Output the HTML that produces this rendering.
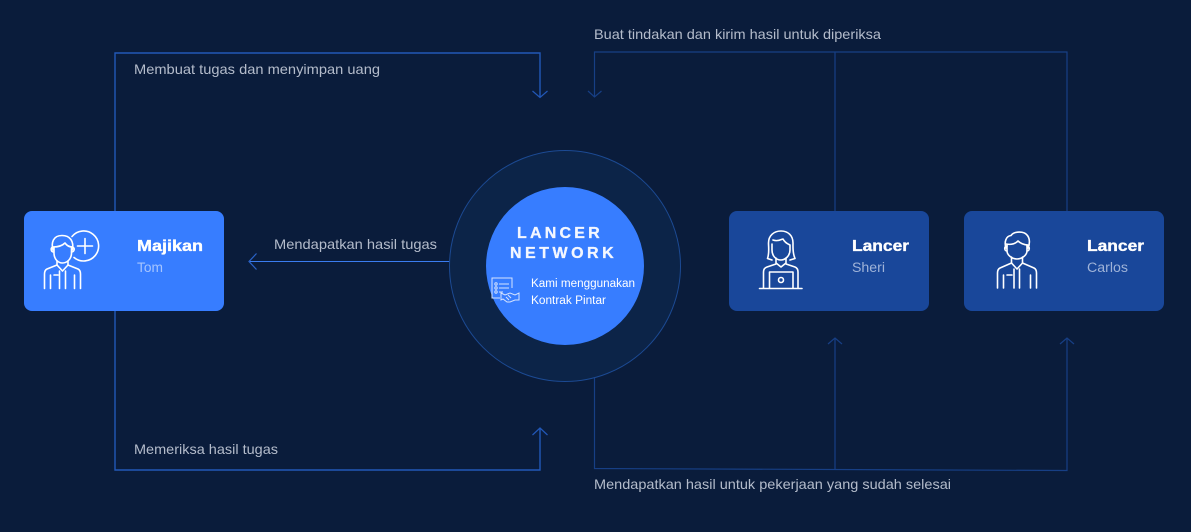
<!DOCTYPE html>
<html lang="id">
<head>
<meta charset="utf-8">
<title>Lancer Network</title>
<style>
html,body{margin:0;padding:0;background:#0a1c3b}
svg{display:block}
text{font-family:"Liberation Sans",sans-serif}
.lbl{font-size:14px;fill:#b4bccb}
.ttl{font-size:16px;font-weight:700;fill:#fff;stroke:#fff;stroke-width:.35}
.sub{font-size:13.5px}
.ic{fill:none;stroke:#fff;stroke-width:1.6;stroke-linecap:round;stroke-linejoin:round}
</style>
</head>
<body>
<svg width="1191" height="532" viewBox="0 0 1191 532" xmlns="http://www.w3.org/2000/svg">
<rect width="1191" height="532" fill="#0a1c3b"/>

<!-- bright connectors -->
<g fill="none" stroke="#2258b8" stroke-width="1.4">
  <path d="M115 211V53H540V97"/>
  <path d="M532.500 91L540 97.500L547.500 91" stroke-width="1.200"/>
  <path d="M115 311V470H540V428"/>
  <path d="M532.500 435L540 428L547.500 435" stroke-width="1.200"/>
</g>
<!-- dim connectors -->
<g fill="none" stroke="#173f85" stroke-width="1.2">
  <path d="M1067 211V52H594.500V97"/>
  <path d="M588 91L594.500 97L601.500 91"/>
  <path d="M835 52V211"/>
  <path d="M594.500 378V468.500L1067 470.500V338"/>
  <path d="M835 469.500V338"/>
  <path d="M828 344L835 338L842 344"/>
  <path d="M1060 344L1067 338L1074 344"/>
</g>
<path d="M250 261.500H450" stroke="#3a7cf0" stroke-width="1" fill="none"/>
<path d="M256.500 253.500L249 261.500L256.500 269.500" stroke="#2a63c8" stroke-width="1.200" fill="none"/>

<!-- labels -->
<text class="lbl" x="134" y="74" textLength="246" lengthAdjust="spacingAndGlyphs">Membuat tugas dan menyimpan uang</text>
<text class="lbl" x="594" y="39" textLength="287" lengthAdjust="spacingAndGlyphs">Buat tindakan dan kirim hasil untuk diperiksa</text>
<text class="lbl" x="274" y="249" textLength="163" lengthAdjust="spacingAndGlyphs">Mendapatkan hasil tugas</text>
<text class="lbl" x="134" y="454" textLength="144" lengthAdjust="spacingAndGlyphs">Memeriksa hasil tugas</text>
<text class="lbl" x="594" y="489" textLength="357" lengthAdjust="spacingAndGlyphs">Mendapatkan hasil untuk pekerjaan yang sudah selesai</text>

<!-- center -->
<circle cx="565" cy="266" r="115.500" fill="#0c2448" stroke="#1c4a93" stroke-width="1"/>
<circle cx="565" cy="266" r="79" fill="#377dff"/>
<text x="517" y="238" font-size="16" font-weight="700" fill="#f4f7ff" stroke="#f4f7ff" stroke-width=".3" letter-spacing="3.200">LANCER</text>
<text x="510" y="258" font-size="16" font-weight="700" fill="#f4f7ff" stroke="#f4f7ff" stroke-width=".3" letter-spacing="3.500">NETWORK</text>
<text x="531" y="287" font-size="11.500" fill="#fff" textLength="104" lengthAdjust="spacingAndGlyphs">Kami menggunakan</text>
<text x="531" y="304" font-size="11.500" fill="#fff" textLength="75" lengthAdjust="spacingAndGlyphs">Kontrak Pintar</text>
<!-- contract icon -->
<g fill="none" stroke="#d5e3ff" stroke-width="1">
  <path d="M512 288V278H492V298H500"/>
  <circle cx="496" cy="284" r="1.200"/><circle cx="496" cy="288" r="1.200"/><circle cx="496" cy="292" r="1.200"/>
  <path d="M499 284H509M499 288H509M499 292H503"/>
  <path d="M501 293L505 295L510 293L515 295L519 293V300L515 300L510 302H507L503 299L501 300Z"/>
  <path d="M508 295L511 298M506 297L509 300"/>
</g>

<!-- Majikan card -->
<rect x="24" y="211" width="200" height="100" rx="8" fill="#377dff"/>
<text class="ttl" x="137" y="251" textLength="66" lengthAdjust="spacingAndGlyphs">Majikan</text>
<text class="sub" x="137" y="272" fill="#a6c5ff" textLength="26" lengthAdjust="spacingAndGlyphs">Tom</text>
<g class="ic">
  <path d="M72 236.500A15 15 0 1 1 74 257.500"/>
  <path d="M85 238.500V253.500M77.500 246H92.500"/>
  <path d="M53 250C51 243 53 235.500 62 235.500C70 235.500 74 241 72.500 250"/>
  <path d="M53 247C58 247 62 246 65 243C67 246 70 247 72.500 247"/>
  <path d="M54 247V253C54 259 58 263 62.500 263C67 263 71.500 259 71.500 253V247"/>
  <path d="M53 247C50.500 247 50.500 252 53.500 252M72 247C75 247 75 252 71.500 252"/>
  <path d="M57 261V265L47 269C45 270 44.500 272 44.500 274V288.500M68 261V265L78 269C80 270 80.500 272 80.500 274V288.500"/>
  <path d="M57 265L62.500 271L68 265M59.500 271V288.500M65.500 271V288.500M50.500 275V288.500M74.500 275V288.500M54 275H58"/>
</g>

<!-- Sheri card -->
<rect x="729" y="211" width="200" height="100" rx="8" fill="#19479a"/>
<text class="ttl" x="852" y="251" textLength="57" lengthAdjust="spacingAndGlyphs">Lancer</text>
<text class="sub" x="852" y="272" fill="#9fb3d8" textLength="33" lengthAdjust="spacingAndGlyphs">Sheri</text>
<g class="ic">
  <path d="M772 260L767.500 258.500C769.500 253 768.500 247 768.500 243C768.500 235.500 774 231 781 231C788 231 793 235.500 793 243C793 247 792.500 253 795 258.500L790 260"/>
  <path d="M773 240C778 242 782 239 783 239C785 243 788 244 790 245V250C790 256 785 260 781 260C776 260 772 256 772 250V244"/>
  <path d="M776 258V263L781 267L786 263V258"/>
  <path d="M776 264L767 267C764 268 763.500 270 763.500 272V288M786 264L795 267C797.500 268 798 270 798 272V288"/>
  <path d="M769.500 288V272H793V288M759.500 288.500H802"/>
  <circle cx="781" cy="280" r="2.500"/>
</g>

<!-- Carlos card -->
<rect x="964" y="211" width="200" height="100" rx="8" fill="#19479a"/>
<text class="ttl" x="1087" y="251" textLength="57" lengthAdjust="spacingAndGlyphs">Lancer</text>
<text class="sub" x="1087" y="272" fill="#9fb3d8" textLength="41" lengthAdjust="spacingAndGlyphs">Carlos</text>
<g class="ic">
  <path d="M1006 248C1004 242 1006 236 1011 235.500C1014 231 1024 231 1027 235C1030 238 1030 244 1028 248"/>
  <path d="M1006 244C1011 245 1015 244 1018 241C1020 243 1024 245 1028 245"/>
  <path d="M1007 245V251C1007 255 1012 259 1017 259C1022 259 1027 255 1027 251V245"/>
  <path d="M1007 246C1004 246 1004 251 1007 251M1027 246C1030 246 1030 251 1027 251"/>
  <path d="M1011.500 257V263L1000 268C998 269 997.500 271 997.500 273V288M1022.500 257V263L1034 268C1036 269 1036.500 271 1036.500 273V288"/>
  <path d="M1011.500 263L1017 269L1022.500 263M1014 269V288M1019.500 269V288M1003.500 275V288M1030.500 275V288M1007 275H1012"/>
</g>
</svg>
</body>
</html>
